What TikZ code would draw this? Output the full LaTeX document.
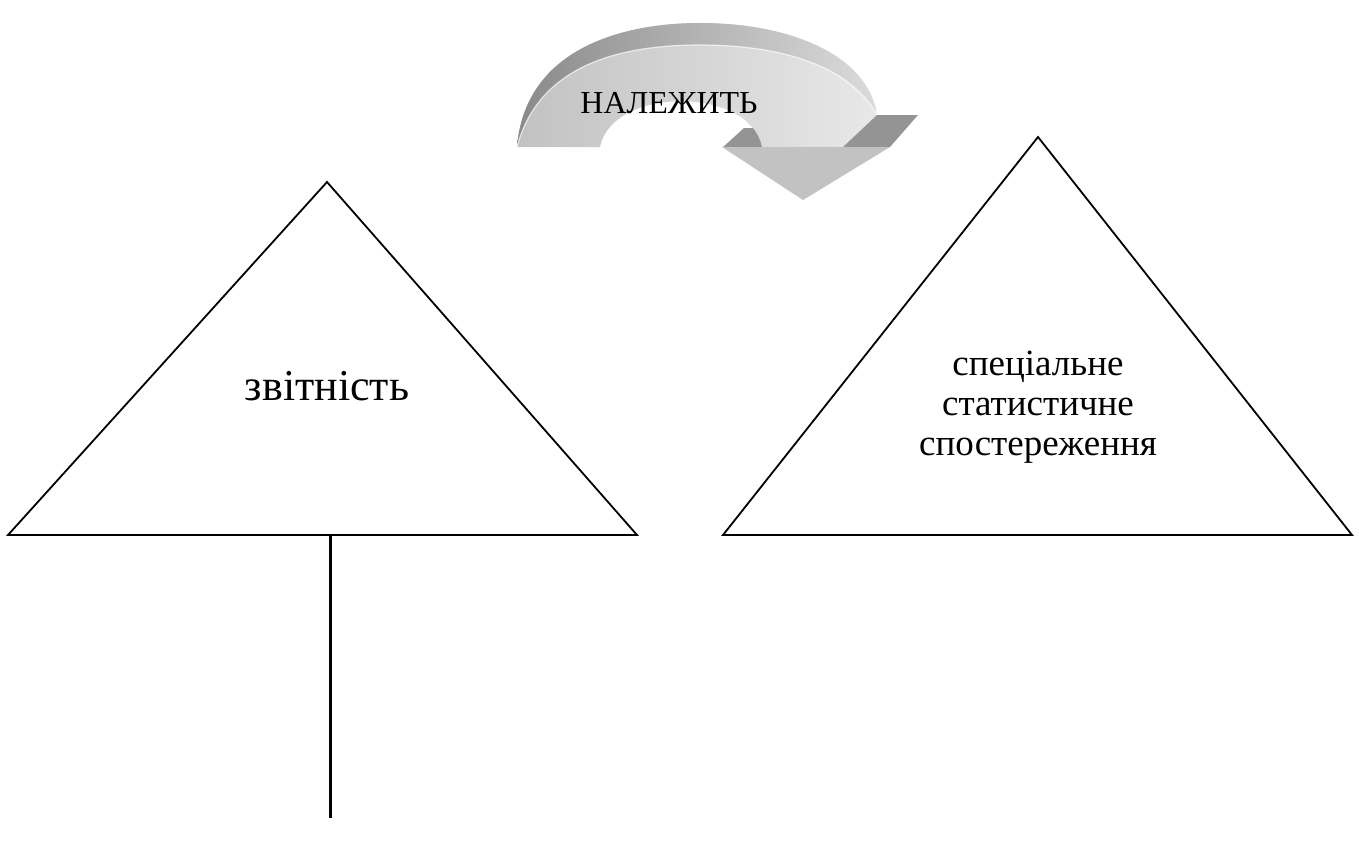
\documentclass[tikz,border=0pt]{standalone}
\usepackage{fontspec}
\setmainfont{Liberation Serif}
\begin{document}
\begin{tikzpicture}[x=1pt,y=-1pt,
  tri/.style={draw=black,line width=1.8pt,line join=miter},
  lbl/.style={inner sep=0pt,align=center,text=black},
  stem/.style={draw=black,line width=3pt},
  darkside/.style={fill=black!42},
  headface/.style={fill=black!24},
]
\useasboundingbox (0,0) rectangle (1359,841);

% ---- curved 3D arrow ----
% front/top face of the arch
\path[left color=black!24,right color=black!9]
  (517,147) .. controls (525,50) and (620,23) .. (700,23)
  .. controls (790,23) and (868,55) .. (877,115)
  -- (843,147) -- (762,147)
  .. controls (750,86) and (612,86) .. (600,147) -- cycle;
% outer wall band
\path[left color=black!46,right color=black!14]
  (517,147) .. controls (525,50) and (620,23) .. (700,23)
  .. controls (790,23) and (868,55) .. (877,115)
  .. controls (852,70) and (790,45) .. (700,45)
  .. controls (630,45) and (540,60) .. (517,147) -- cycle;
% light rim
\draw[white,opacity=0.7,line width=1.2pt]
  (877,115) .. controls (852,70) and (790,45) .. (700,45)
  .. controls (630,45) and (540,60) .. (517,147);
% dark inner side seen through the hole
\begin{scope}
  \clip (600,147) .. controls (612,86) and (750,86) .. (762,147) -- cycle;
  \fill[darkside] (722,148) -- (744,128) -- (780,128) -- (780,148) -- cycle;
\end{scope}
% dark right side of the head
\fill[darkside] (843,147) -- (877,115) -- (918,115) -- (890,147) -- cycle;
% arrow head face
\fill[headface] (722,147) -- (890,147) -- (803,200) -- cycle;

\node[lbl,anchor=base,font=\fontsize{32}{38}\selectfont] (rel) at (669,113) {НАЛЕЖИТЬ};

% ---- triangles ----
\coordinate (la) at (327,182);
\coordinate (ll) at (8,535);
\coordinate (lr) at (637,535);
\draw[tri] (ll) -- (la) -- (lr) -- cycle;
\node[lbl,anchor=base,font=\fontsize{44}{50}\selectfont] (rep) at (327,400) {звітність};

\coordinate (ra) at (1038,137);
\coordinate (rl) at (723,535);
\coordinate (rr) at (1352,535);
\draw[tri] (rl) -- (ra) -- (rr) -- cycle;
\node[lbl,anchor=base,font=\fontsize{37}{40}\selectfont] (spec) at (1038,455) {спеціальне\\статистичне\\спостереження};

% ---- stem ----
\coordinate (stemtop) at (330,535);
\coordinate (stemend) at (330,818);
\draw[stem] (stemtop) -- (stemend);
\end{tikzpicture}
\end{document}
